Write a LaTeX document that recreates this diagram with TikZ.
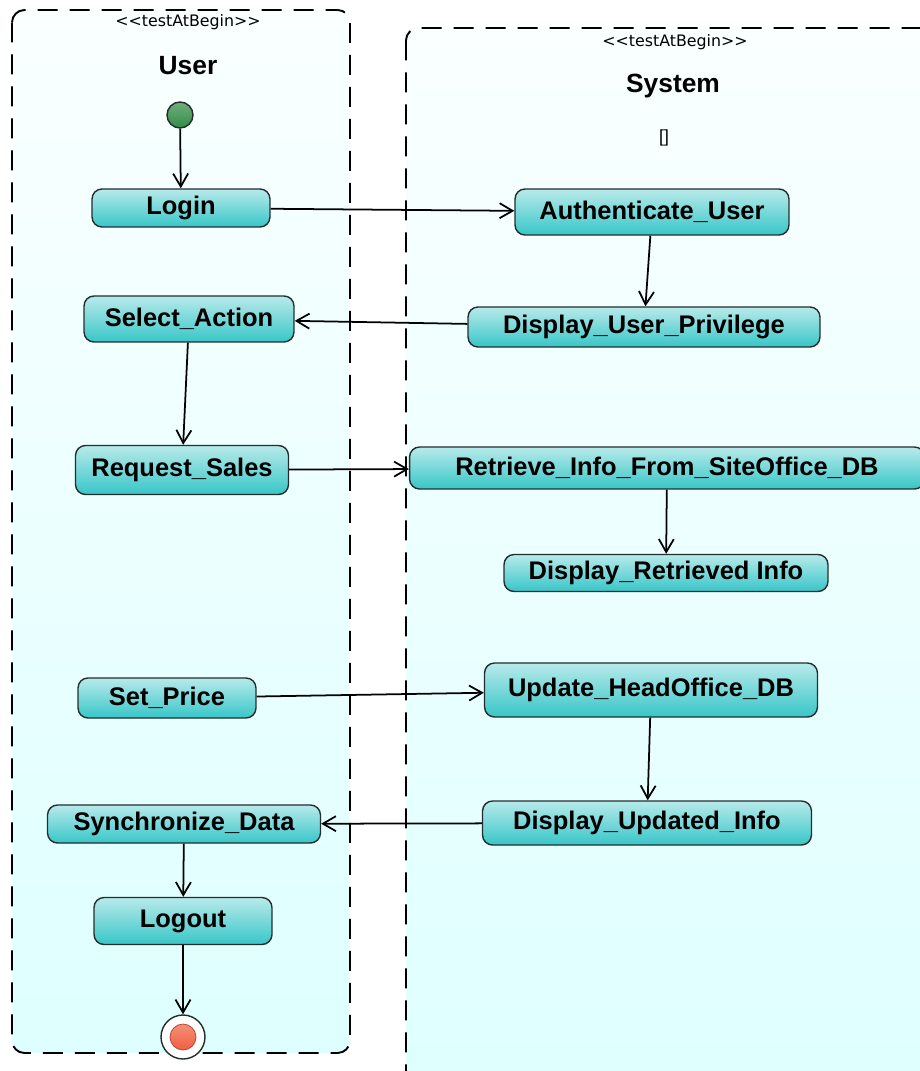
\documentclass[tikz,border=0pt]{standalone}
\usepackage{fontspec}
\setmainfont{Liberation Sans}
\newfontfamily\stereofont{DejaVu Sans}
\usetikzlibrary{arrows.meta}
\definecolor{actborder}{RGB}{35,45,45}
\definecolor{acttop}{RGB}{184,234,234}
\definecolor{actbot}{RGB}{56,198,200}
\definecolor{lanetop}{RGB}{250,255,255}
\definecolor{lanebot}{RGB}{222,255,255}
\definecolor{startgreen}{RGB}{50,140,70}
\definecolor{endred}{RGB}{240,95,65}

\begin{document}
\begin{tikzpicture}[x=0.02cm,y=-0.02cm,
  act/.style={draw=actborder,line width=0.8pt,rounded corners=0.2cm,top color=acttop,bottom color=actbot,inner sep=0pt,font=\bfseries\fontsize{14.5}{17}\selectfont},
  lane/.style={draw,line width=1.1pt,dash pattern=on 0.4cm off 0.24cm,rounded corners=0.25cm,top color=lanetop,bottom color=lanebot},
  flow/.style={-{Straight Barb[length=0.26cm,width=0.3cm]},line width=1pt},
  stereo/.style={font=\stereofont\fontsize{9}{11}\selectfont},
  lanetitle/.style={font=\bfseries\fontsize{15}{18}\selectfont}]
\useasboundingbox (0,0) rectangle (919,1071);
\path[lane] (12,10) rectangle (350,1053);
\path[lane] (406,28) rectangle (950,1100);
\node[stereo] (ust) at (188,22) {{<}{<}testAtBegin{>}{>}};
\node[stereo] (sst) at (675,42) {{<}{<}testAtBegin{>}{>}};
\node[lanetitle] (user) at (188,66) {User};
\node[lanetitle] (system) at (673,86) {System};
\node[font=\fontsize{10}{12}\selectfont] (guard) at (664,138) {[]};
\node[circle,draw=actborder,line width=0.8pt,top color=startgreen!70!white,bottom color=startgreen,minimum size=0.52cm] (start) at (180,115) {};
\node[act,minimum width=3.56cm,minimum height=0.76cm] (login) at (181,208) {Login};
\node[act,minimum width=5.48cm,minimum height=0.92cm] (auth) at (652,212) {Authenticate\_User};
\node[act,minimum width=4.2cm,minimum height=0.92cm] (select) at (189,319) {Select\_Action};
\node[act,minimum width=7.04cm,minimum height=0.8cm] (privilege) at (644,327) {Display\_User\_Privilege};
\node[act,minimum width=4.26cm,minimum height=0.98cm] (request) at (182,470) {Request\_Sales};
\node[act,minimum width=10.3cm,minimum height=0.84cm] (retrieve) at (667,468) {Retrieve\_Info\_From\_SiteOffice\_DB};
\node[act,minimum width=6.48cm,minimum height=0.74cm] (showinfo) at (666,573) {Display\_Retrieved Info};
\node[act,minimum width=3.56cm,minimum height=0.8cm] (price) at (167,698) {Set\_Price};
\node[act,minimum width=6.66cm,minimum height=1.08cm] (update) at (651,690) {Update\_HeadOffice\_DB};
\node[act,minimum width=5.46cm,minimum height=0.76cm] (sync) at (184,824) {Synchronize\_Data};
\node[act,minimum width=6.58cm,minimum height=0.88cm] (showupd) at (647,823) {Display\_Updated\_Info};
\node[act,minimum width=3.56cm,minimum height=0.94cm] (logout) at (183,921) {Logout};
\node[circle,draw=actborder,line width=0.8pt,fill=white,minimum size=0.88cm] (end) at (183,1037) {};
\node[circle,draw=endred!70!black,line width=0.4pt,top color=endred!70!white,bottom color=endred,minimum size=0.52cm] (endin) at (end) {};
\draw[flow] (start) -- (login);
\draw[flow] (login) -- (auth);
\draw[flow] (auth) -- (privilege);
\draw[flow] (privilege) -- (select);
\draw[flow] (select) -- (request);
\draw[flow] (request) -- (retrieve);
\draw[flow] (retrieve) -- (showinfo);
\draw[flow] (price) -- (update);
\draw[flow] (update) -- (showupd);
\draw[flow] (showupd) -- (sync);
\draw[flow] (sync) -- (logout);
\draw[flow] (logout) -- (end);
\end{tikzpicture}
\end{document}
